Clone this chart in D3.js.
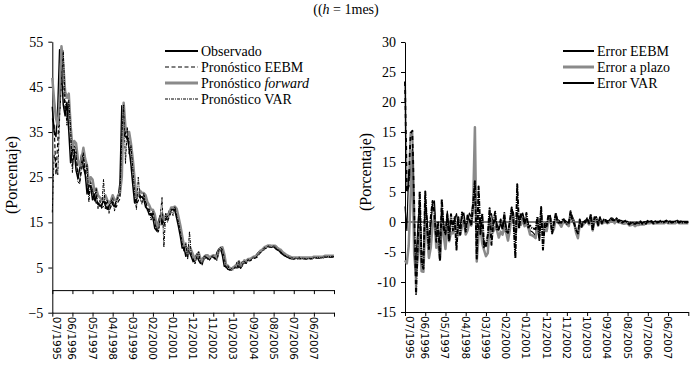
<!DOCTYPE html>
<html><head><meta charset="utf-8">
<script src="https://cdn.jsdelivr.net/npm/d3@7"></script>
<style>body{margin:0;background:#fff}svg{display:block}</style>
</head><body>
<svg id="c" width="691" height="365"></svg>
<script>
// ---- tick labels ----
const xTickLabels = ["07/1995","06/1996","05/1997","04/1998","03/1999","02/2000","01/2001","12/2001","11/2002","10/2003","09/2004","08/2005","07/2006","06/2007"];
const leftTickValues = [55,45,35,25,15,5,-5];
const leftTickLabels = ["55","45","35","25","15","5","\u22125"];
const rightTickValues = [30,25,20,15,10,5,0,-5,-10,-15];
const rightTickLabels = ["30","25","20","15","15","5","0","-5","-10","-15"];

// ---- left panel series (monthly, 07/1995 - 05/2008) ----
const observado = [40.6,35.1,34.0,40.3,53.2,48.6,
41.0,38.6,41.6,35.3,28.2,31.1,31.1,26.5,24.7,27.0,30.0,27.2,
25.6,21.3,23.3,22.9,20.0,21.3,19.3,19.3,18.6,18.8,19.9,18.8,
17.9,18.6,19.9,18.9,18.6,19.9,20.4,23.8,40.8,34.9,33.9,34.0,
31.4,27.8,23.3,19.3,20.1,21.2,20.4,20.7,20.1,18.4,17.9,16.7,
17.0,16.0,13.7,13.2,15.2,16.5,14.5,15.8,15.9,16.3,17.6,17.6,
18.0,17.6,15.9,14.0,11.9,9.3,9.4,7.5,9.3,8.4,7.4,6.3,
7.0,8.0,6.6,5.9,7.0,7.3,7.4,6.9,7.2,7.4,7.3,6.9,
8.3,9.1,9.2,7.7,5.3,5.2,4.6,4.5,4.7,5.1,5.0,6.1,
5.0,5.5,6.3,6.0,6.6,6.6,6.8,7.1,7.2,7.4,8.0,8.5,
8.6,9.2,9.4,9.6,9.7,9.6,9.6,9.6,9.2,8.9,8.7,8.2,
7.9,7.6,7.4,7.2,7.0,7.0,7.0,7.0,7.1,7.0,7.0,7.0,
7.0,7.0,7.0,7.0,7.2,7.2,7.2,7.2,7.2,7.2,7.4,7.4,
7.4,7.4,7.4,7.4,7.4];
const pronEEBM = [38.0,36.5,25.5,33.0,41.0,53.5,
47.0,39.5,38.0,40.0,34.0,27.5,30.5,30.5,25.5,24.0,26.5,29.5,
27.0,25.0,21.0,23.0,22.5,19.5,21.0,19.0,19.0,18.3,18.5,19.5,
18.5,17.6,18.4,19.6,18.7,18.4,19.6,20.2,32.0,39.5,34.5,33.5,
33.6,31.0,27.4,23.0,19.0,19.8,21.0,20.2,20.4,19.8,18.2,17.6,
16.5,16.8,15.8,13.5,13.0,15.0,16.2,14.3,15.6,15.7,16.1,17.4,
17.4,17.8,17.4,15.6,13.8,11.7,9.2,9.3,7.4,9.1,8.3,7.3,
6.2,6.9,7.9,6.5,5.8,6.9,7.2,7.3,6.8,7.1,7.3,7.2,
6.8,8.2,9.0,9.1,7.6,5.2,5.1,4.5,4.4,4.6,5.0,4.9,
6.0,4.9,5.4,6.2,5.9,6.5,6.5,6.7,7.0,7.1,7.3,7.9,
8.4,8.5,9.1,9.3,9.5,9.6,9.5,9.5,9.5,9.1,8.8,8.6,
8.1,7.8,7.5,7.3,7.1,6.9,6.9,6.9,6.9,7.0,6.9,6.9,
6.9,6.9,6.9,6.9,6.9,7.1,7.1,7.1,7.1,7.1,7.1,7.3,
7.3,7.3,7.3,7.3,7.3];
const pronForward = [47.0,42.0,38.0,36.5,41.5,54.0,
50.0,44.0,42.6,43.5,36.5,31.5,33.0,32.5,29.0,27.5,29.0,31.5,
29.0,27.5,23.5,25.0,24.5,22.0,22.5,21.0,20.5,20.0,20.0,21.0,
20.0,19.3,19.8,21.0,20.0,19.8,21.0,21.5,25.0,41.5,36.0,35.0,
35.0,32.5,29.0,24.5,20.5,21.0,22.0,21.5,21.5,21.0,19.5,18.8,
17.8,17.8,16.8,14.5,14.0,16.0,17.0,15.5,16.5,16.8,17.0,18.3,
18.3,18.5,18.0,16.2,14.3,12.0,9.8,9.8,8.0,9.6,8.8,7.8,
6.8,7.4,8.3,7.0,6.3,7.4,7.7,7.7,7.2,7.5,7.7,7.6,
7.2,8.7,9.4,9.5,8.0,5.6,5.4,4.9,4.7,5.0,5.4,5.3,
6.4,5.3,5.8,6.6,6.3,6.9,6.9,7.1,7.4,7.5,7.7,8.3,
8.8,8.9,9.5,9.7,9.9,9.9,9.8,9.8,9.8,9.4,9.1,8.9,
8.4,8.1,7.8,7.6,7.4,7.2,7.2,7.2,7.2,7.3,7.2,7.2,
7.2,7.2,7.2,7.2,7.2,7.4,7.4,7.4,7.4,7.4,7.4,7.6,
7.6,7.6,7.6,7.6,7.6];
const pronVAR = [17.2,30.0,28.0,25.5,38.0,46.0,
53.0,42.0,36.5,42.0,36.0,26.0,32.0,31.0,24.0,23.5,28.5,30.5,
25.5,27.8,19.5,24.0,22.0,20.0,22.5,18.0,20.0,18.0,24.5,18.0,
20.0,17.0,19.5,20.5,17.5,19.5,21.0,21.0,34.0,41.0,28.0,36.0,
30.0,32.0,27.0,21.5,17.8,25.0,20.5,19.0,21.5,19.5,17.5,18.0,
15.5,17.5,15.5,13.0,12.8,16.5,20.5,9.5,17.0,15.0,16.5,18.0,
16.5,18.5,16.5,15.0,13.0,10.5,8.5,10.5,6.8,13.0,7.5,7.0,
5.8,7.4,8.5,6.0,5.5,7.5,7.5,7.0,6.6,7.4,7.6,7.1,
6.5,8.8,9.5,9.0,7.2,4.8,5.4,4.3,4.8,4.5,5.2,4.8,
6.4,4.7,5.6,6.5,5.8,6.8,6.4,6.9,7.3,7.2,7.5,8.2,
8.3,8.7,9.4,9.2,9.8,9.5,9.4,9.8,9.6,8.9,9.0,8.5,
8.0,7.9,7.3,7.5,7.0,7.3,6.8,7.1,7.0,7.2,6.9,7.1,
7.0,6.8,7.1,7.0,7.0,7.3,7.1,7.3,7.2,7.1,7.3,7.5,
7.3,7.5,7.4,7.5,7.4];

// ---- right panel series ----
const errorEEBM = [2.6,-1.4,8.5,7.3,12.2,-4.9,
-6.0,-0.9,3.6,-4.7,-5.8,3.6,0.6,-4.0,-0.8,3.0,3.5,-2.3,
-1.4,-3.7,2.3,-0.1,-2.5,1.8,-1.7,0.3,-0.4,0.5,1.4,-0.7,
-0.6,1.0,1.5,-0.7,-0.1,1.5,0.8,3.6,8.8,-4.6,-0.6,0.5,
-2.2,-3.2,-4.1,-3.7,1.1,1.4,-0.6,0.5,-0.3,-1.4,-0.3,-0.9,
0.5,-0.8,-2.1,-0.3,2.2,1.5,-1.7,1.5,0.3,0.6,1.5,0.2,
0.6,-0.2,-1.5,-1.6,-1.9,-2.4,0.2,-1.8,1.9,-0.7,-0.9,-1.0,
0.8,1.1,-1.3,-0.6,1.2,0.4,0.2,-0.4,0.4,0.3,0.0,-0.3,
1.5,0.9,0.2,-1.4,-2.3,0.0,-0.5,0.0,0.3,0.5,0.0,1.2,
-1.0,0.6,0.9,-0.2,0.7,0.1,0.3,0.4,0.2,0.3,0.7,0.6,
0.2,0.7,0.3,0.3,0.2,0.0,0.1,0.1,-0.3,-0.2,-0.1,-0.4,
-0.2,-0.2,-0.1,-0.1,-0.1,0.1,0.1,0.1,0.2,0.0,0.1,0.1,
0.1,0.1,0.1,0.1,0.3,0.1,0.1,0.1,0.1,0.1,0.3,0.1,
0.1,0.1,0.1,0.1,0.1];
const errorPlazo = [-6.4,-6.9,-4.0,3.8,11.7,-5.4,
-9.0,-5.4,-1.0,-8.2,-8.3,-0.4,-1.9,-6.0,-4.3,-0.5,1.0,-4.3,
-3.4,-6.2,-0.2,-2.1,-4.5,-0.7,-3.2,-1.7,-1.9,-1.2,-0.1,-2.2,
-2.1,-0.7,0.1,-2.1,-1.4,0.1,-0.6,2.3,15.8,-6.6,-2.1,-1.0,
-3.6,-4.7,-5.7,-5.2,-0.4,0.2,-1.6,-0.8,-1.4,-2.6,-1.6,-2.1,
-0.8,-1.8,-3.1,-1.3,1.2,0.5,-2.5,0.3,-0.6,-0.5,0.6,-0.7,
-0.3,-0.9,-2.1,-2.2,-2.4,-2.7,-0.4,-2.3,1.3,-1.2,-1.4,-1.5,
0.2,0.6,-1.7,-1.1,0.7,-0.1,-0.3,-0.8,0.0,-0.1,-0.4,-0.7,
1.1,0.4,-0.2,-1.8,-2.7,-0.4,-0.8,-0.4,0.0,0.1,-0.4,0.8,
-1.4,0.2,0.5,-0.6,0.3,-0.3,-0.1,0.0,-0.2,-0.1,0.3,0.2,
-0.2,0.3,-0.1,-0.1,-0.2,-0.3,-0.2,-0.2,-0.6,-0.5,-0.4,-0.7,
-0.5,-0.5,-0.4,-0.4,-0.4,-0.2,-0.2,-0.2,-0.1,-0.3,-0.2,-0.2,
-0.2,-0.2,-0.2,-0.2,0.0,-0.2,-0.2,-0.2,-0.2,-0.2,0.0,-0.2,
-0.2,-0.2,-0.2,-0.2,-0.2];
const errorVAR = [23.4,5.1,6.0,14.8,15.2,2.6,
-12.0,-3.4,5.1,-6.7,-7.8,5.1,-0.9,-4.5,0.7,3.5,1.5,-3.3,
0.1,-6.5,3.8,-1.1,-2.0,1.3,-3.2,1.3,-1.4,0.8,-4.6,0.8,
-2.1,1.6,0.4,-1.6,1.1,0.4,-0.6,2.8,6.8,-6.1,5.9,-2.0,
1.4,-4.2,-3.7,-2.2,2.3,-3.8,-0.1,1.7,-1.4,-1.1,0.4,-1.3,
1.5,-1.5,-1.8,0.2,2.4,0.0,-6.0,6.3,-1.1,1.3,1.1,-0.4,
1.5,-0.9,-0.6,-1.0,-1.1,-1.2,0.9,-3.0,2.5,-4.6,-0.1,-0.7,
1.2,0.6,-1.9,-0.1,1.5,-0.2,-0.1,-0.1,0.6,0.0,-0.3,-0.2,
1.8,0.3,-0.3,-1.3,-1.9,0.4,-0.8,0.2,-0.1,0.6,-0.2,1.3,
-1.4,0.8,0.7,-0.5,0.8,-0.2,0.4,0.2,-0.1,0.2,0.5,0.3,
0.3,0.5,0.0,0.4,-0.1,0.1,0.2,-0.2,-0.4,0.0,-0.3,-0.3,
-0.1,-0.3,0.1,-0.3,0.0,-0.3,0.2,-0.1,0.1,-0.2,0.1,-0.1,
0.0,0.2,-0.1,0.0,0.2,-0.1,0.1,-0.1,0.0,0.1,0.1,-0.1,
0.1,-0.1,0.0,-0.1,0.0];

const SERIF = "'Liberation Serif', 'Times New Roman', serif";
const SANS = "'DejaVu Sans', Verdana, sans-serif";
const GRAY = "#8a8a8a";
const svg = d3.select("#c");
const N = observado.length;
const tickIdx = d3.range(0, N, 11);

// Title
const title = svg.append("text").attr("x", 346).attr("y", 14).attr("text-anchor", "middle")
  .style("font-family", SERIF).style("font-size", "14px").attr("fill", "#000");
title.append("tspan").text("((");
title.append("tspan").style("font-style", "italic").text("h");
title.append("tspan").text(" = 1mes)");

function panel(o) {
  const g = svg.append("g");
  const x = d3.scaleLinear().domain([0, N - 1]).range([o.x0, o.x1]);
  const y = d3.scaleLinear().domain(o.yDomain).range([o.yBottom, o.yTop]);

  // y axis
  const ya = g.append("g").attr("transform", `translate(${o.x0},0)`)
    .call(d3.axisLeft(y).tickValues(o.tickValues).tickFormat((d, i) => o.tickLabels[i]).tickSize(4).tickSizeOuter(0).tickPadding(5));
  ya.selectAll("text").style("font-family", SERIF).style("font-size", "14px").attr("fill", "#000");
  ya.selectAll("line,path").attr("stroke", "#000");

  // zero line
  if (o.zeroTicks) {
    const za = g.append("g").attr("transform", `translate(0,${y(0)})`)
      .call(d3.axisBottom(x).tickValues(tickIdx).tickFormat("").tickSize(4).tickSizeOuter(0));
    za.selectAll("line,path").attr("stroke", "#000");
  } else {
    g.append("line").attr("x1", o.x0).attr("x2", o.x1).attr("y1", y(0)).attr("y2", y(0))
      .attr("stroke", "#000").attr("stroke-width", 1);
  }
  // bottom axis
  const ba = g.append("g").attr("transform", `translate(0,${o.yBottom})`)
    .call(d3.axisBottom(x).tickValues(tickIdx).tickFormat("").tickSize(4).tickSizeOuter(0));
  ba.selectAll("line,path").attr("stroke", "#000");
  g.selectAll(".xl").data(xTickLabels).join("text").attr("class", "xl")
    .attr("transform", (d, i) => `translate(${Math.max(x(i * 11), o.x0 + 5)},${o.yBottom + 4}) rotate(90)`)
    .attr("dominant-baseline", "central")
    .style("font-family", SANS).style("font-size", "10.4px").attr("fill", "#000")
    .text(d => d);

  // y label
  g.append("text").attr("transform", `translate(${o.labX},${o.labY}) rotate(-90)`)
    .attr("text-anchor", "middle").style("font-family", SERIF).style("font-size", "16px")
    .attr("fill", "#000").text("(Porcentaje)");

  const line = d3.line().x((d, i) => x(i)).y(d => y(d));
  o.series.forEach(s => {
    g.append("path").datum(s.data).attr("d", line).attr("fill", "none")
      .attr("stroke", s.color).attr("stroke-width", s.width)
      .attr("stroke-dasharray", s.dash || null).attr("stroke-linejoin", "round");
  });

  // legend
  o.series.forEach((s, i) => {
    const ly = o.legY + i * o.legStep;
    g.append("line").attr("x1", o.legX).attr("x2", o.legX + o.legLen).attr("y1", ly).attr("y2", ly)
      .attr("stroke", s.color).attr("stroke-width", s.legWidth || s.width)
      .attr("stroke-dasharray", s.legDash === undefined ? (s.dash || null) : s.legDash);
    const t = g.append("text").attr("x", o.legX + o.legLen + 3).attr("y", ly + 4.5)
      .style("font-family", SERIF).style("font-size", "14px").attr("fill", "#000");
    s.label.forEach(p => t.append("tspan").style("font-style", p.it ? "italic" : "normal").text(p.t));
  });
}

panel({
  x0: 52.3, x1: 334, yTop: 41.7, yBottom: 312.7, yDomain: [-5, 55],
  tickValues: leftTickValues, tickLabels: leftTickLabels, zeroTicks: true,
  labX: 17, labY: 175,
  legX: 165, legLen: 33, legY: 51, legStep: 16,
  series: [
    {data: observado, color: "#000", width: 1.5, legWidth: 2, label: [{t: "Observado"}]},
    {data: pronEEBM, color: "#000", width: 1.2, dash: "4,2.5", label: [{t: "Pronóstico EEBM"}]},
    {data: pronForward, color: GRAY, width: 2.5, legWidth: 3, label: [{t: "Pronóstico "}, {t: "forward", it: true}]},
    {data: pronVAR, color: "#000", width: 1, dash: "3,1,1,1", label: [{t: "Pronóstico VAR"}]}
  ]
});

panel({
  x0: 405, x1: 688.3, yTop: 42, yBottom: 312, yDomain: [-15, 30],
  tickValues: rightTickValues, tickLabels: rightTickLabels, zeroTicks: false,
  labX: 371, labY: 172,
  legX: 563, legLen: 31, legY: 51, legStep: 16,
  series: [
    {data: errorEEBM, color: "#000", width: 1.2, legWidth: 2, label: [{t: "Error EEBM"}]},
    {data: errorPlazo, color: GRAY, width: 2.5, legWidth: 3, label: [{t: "Error a plazo"}]},
    {data: errorVAR, color: "#000", width: 2, dash: "5,1,1,1", legDash: null, label: [{t: "Error VAR"}]}
  ]
});
</script>
</body></html>
